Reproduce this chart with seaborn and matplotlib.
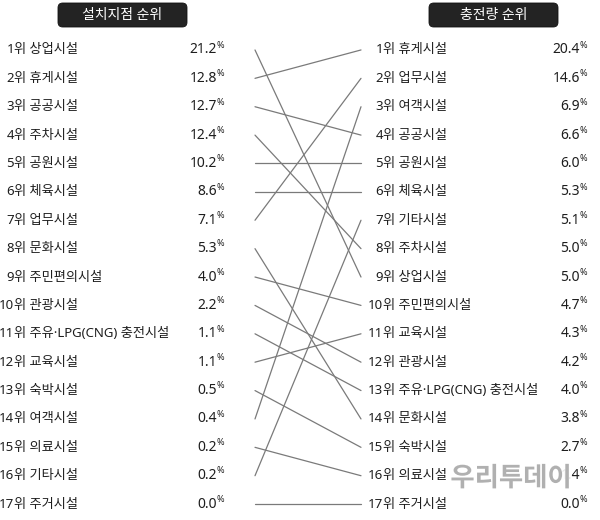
import matplotlib
matplotlib.use("Agg")
import matplotlib.pyplot as plt
import matplotlib.patheffects as pe
from matplotlib.patches import FancyBboxPatch
import seaborn as sns
import pandas as pd

# 설치지점 순위 (left column)
left_names = ['상업시설', '휴게시설', '공공시설', '주차시설', '공원시설', '체육시설',
              '업무시설', '문화시설', '주민편의시설', '관광시설', '주유·LPG(CNG) 충전시설',
              '교육시설', '숙박시설', '여객시설', '의료시설', '기타시설', '주거시설']
left_values = [21.2, 12.8, 12.7, 12.4, 10.2, 8.6, 7.1, 5.3, 4.0, 2.2, 1.1,
               1.1, 0.5, 0.4, 0.2, 0.2, 0.0]

# 충전량 순위 (right column)
right_names = ['휴게시설', '업무시설', '여객시설', '공공시설', '공원시설', '체육시설',
               '기타시설', '주차시설', '상업시설', '주민편의시설', '교육시설', '관광시설',
               '주유·LPG(CNG) 충전시설', '문화시설', '숙박시설', '의료시설', '주거시설']
right_values = [20.4, 14.6, 6.9, 6.6, 6.0, 5.3, 5.1, 5.0, 5.0, 4.7, 4.3, 4.2,
                4.0, 3.8, 2.7, 1.4, 0.0]

headers = ['설치지점 순위', '충전량 순위']

sns.set_theme(style="white")
# latin / digits / middle dot from Noto Sans, hangul falls back to CJK
plt.rcParams['font.family'] = ['Noto Sans', 'Noto Sans CJK KR', 'DejaVu Sans']

# connecting lines: same facility, left rank -> right rank
x_left, x_right = 255, 361
rows = []
for name in left_names:
    rows.append({'name': name, 'x': x_left, 'rank': left_names.index(name) + 1})
    rows.append({'name': name, 'x': x_right, 'rank': right_names.index(name) + 1})
lines = pd.DataFrame(rows)

fig = plt.figure(figsize=(6, 5.2), dpi=100)
ax = fig.add_axes([0, 0, 1, 1])
sns.lineplot(data=lines, x='x', y='rank', units='name', estimator=None, sort=False,
             color='#7a7a7a', linewidth=0.9, legend=False, ax=ax)
ax.set_xlim(0, 600)
ax.set_ylim(17.56, -0.76)
ax.axis('off')

fs = 9.5
txt_col = '#1e1e1e'


def draw_column(names, values, x_rank, x_num):
    for i, (name, val) in enumerate(zip(names, values)):
        r = i + 1
        ax.text(x_rank, r, str(r), ha='right', va='center', fontsize=fs, color=txt_col)
        ax.text(x_rank, r, '위 ' + name, ha='left', va='center', fontsize=fs, color=txt_col)
        ax.text(x_num, r, f'{val:.1f}', ha='right', va='center', fontsize=fs + 0.5,
                color=txt_col)
        ax.annotate('%', (x_num, r), xytext=(-0.3, 3.4), textcoords='offset points',
                    ha='left', va='center', fontsize=6.5, color=txt_col)


draw_column(left_names, left_values, 14, 217)
draw_column(right_names, right_values, 383, 580)

# header boxes
for x0, label in zip([58, 429], headers):
    box = FancyBboxPatch((x0 / 600, 1 - 27 / 520), 129 / 600, 24 / 520,
                         boxstyle='round,pad=0,rounding_size=0.008',
                         mutation_aspect=600 / 520, transform=fig.transFigure,
                         fc='#232323', ec='#111111', lw=0.6)
    fig.patches.append(box)
    fig.text((x0 + 64.5) / 600, 1 - 15 / 520, label, ha='center', va='center',
             fontsize=10, color='white')

# watermark
fig.text(511 / 600, 1 - 479 / 520, '우리투데이', ha='center', va='center',
         fontsize=19, fontweight='bold', color='#a9a9a9', alpha=0.9,
         path_effects=[pe.withStroke(linewidth=4, foreground='white')])

fig.savefig('out.png', dpi=100, facecolor='white')
